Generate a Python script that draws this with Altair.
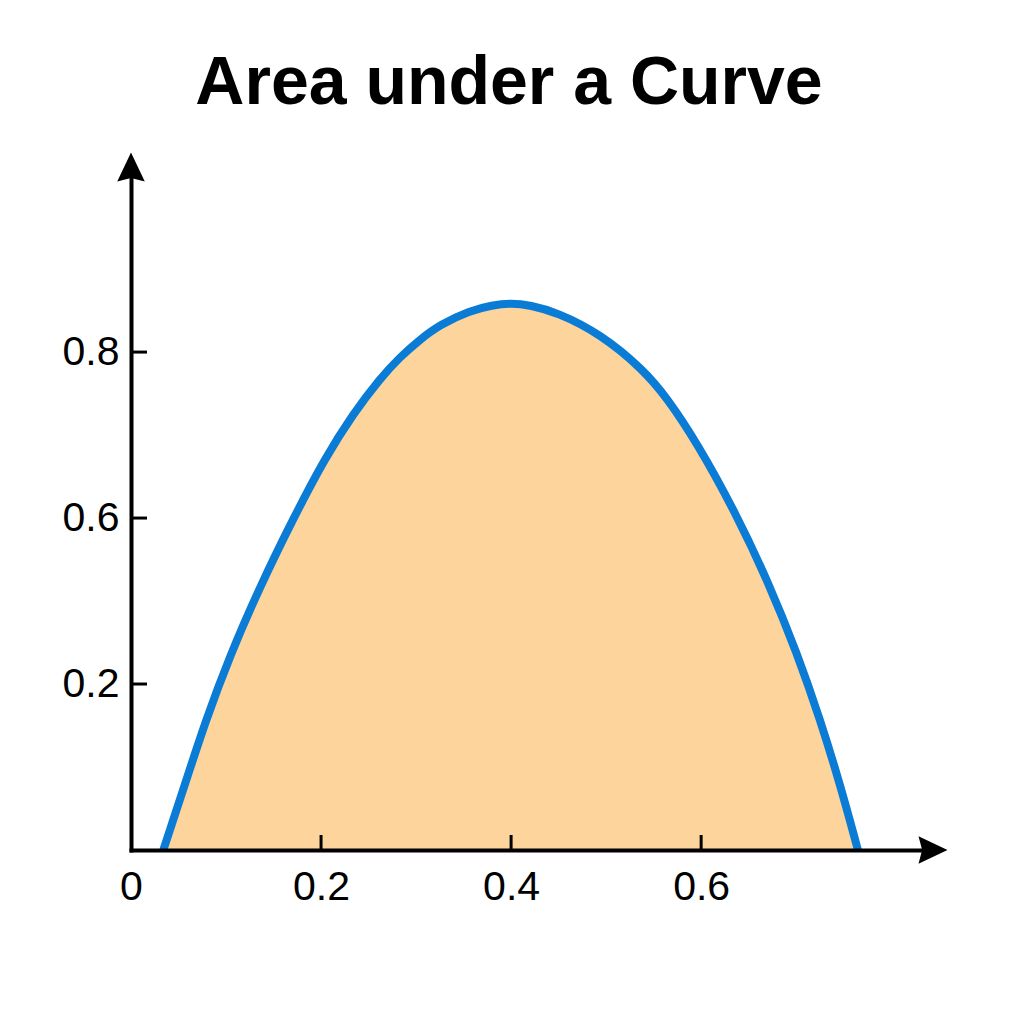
import altair as alt
import pandas as pd

title_text = "Area under a Curve"

# curve (x in axis units, y in axis-position units)
curve_x = [0.034, 0.057, 0.078, 0.104, 0.136, 0.171, 0.204, 0.234, 0.262, 0.283,
           0.304, 0.325, 0.357, 0.380, 0.400, 0.420, 0.448, 0.494, 0.539, 0.564,
           0.596, 0.636, 0.671, 0.701, 0.725, 0.746, 0.765]
curve_y = [0.000, 0.080, 0.154, 0.234, 0.318, 0.400, 0.472, 0.526, 0.568, 0.594,
           0.615, 0.633, 0.650, 0.6565, 0.659, 0.6565, 0.648, 0.622, 0.579, 0.545,
           0.490, 0.407, 0.322, 0.237, 0.158, 0.080, 0.000]

x_tick_values = [0, 0.2, 0.4, 0.6]
x_tick_labels = ["0", "0.2", "0.4", "0.6"]
y_tick_values = [0.2, 0.4, 0.6]
y_tick_labels = ["0.2", "0.6", "0.8"]

x_domain = [0, 0.844]
y_domain = [0, 0.823]

W, H = 802, 683
FONT = "Liberation Sans"


def label_expr(values, labels):
    expr = "''"
    for v, l in reversed(list(zip(values, labels))):
        expr = f"abs(datum.value - {v}) < 1e-6 ? '{l}' : " + expr
    return expr


df = pd.DataFrame({"x": curve_x, "y": curve_y})
x_scale = alt.Scale(domain=x_domain, nice=False, zero=False)
y_scale = alt.Scale(domain=y_domain, nice=False, zero=False)

axis_common = dict(
    title=None, ticks=False, grid=False, domainWidth=4, domainColor="black",
    domainCap="square", labelFontSize=41, labelFont=FONT, labelColor="black",
    labelFlush=False, zindex=1,
)

x_axis = alt.Axis(values=x_tick_values, labelExpr=label_expr(x_tick_values, x_tick_labels),
                  labelPadding=17, **axis_common)
y_axis = alt.Axis(values=y_tick_values, labelExpr=label_expr(y_tick_values, y_tick_labels),
                  labelPadding=12, **axis_common)

base = alt.Chart(df)
area = base.mark_area(color="#FDD49C", interpolate="basis", opacity=1).encode(
    x=alt.X("x:Q", scale=x_scale, axis=x_axis),
    y=alt.Y("y:Q", scale=y_scale, axis=y_axis),
)
line = base.mark_line(color="#0A7CD6", strokeWidth=8, interpolate="basis").encode(
    x=alt.X("x:Q", scale=x_scale, axis=x_axis),
    y=alt.Y("y:Q", scale=y_scale, axis=y_axis),
)

yticks = alt.Chart(pd.DataFrame({"x": [0.0] * len(y_tick_values), "y": y_tick_values})).mark_rule(
    color="black", strokeWidth=3
).encode(
    y=alt.Y("y:Q", scale=y_scale, axis=y_axis),
    x=alt.value(0),
    x2=alt.value(16),
)
xticks = alt.Chart(pd.DataFrame({"x": x_tick_values[1:]})).mark_rule(
    color="black", strokeWidth=3
).encode(
    x=alt.X("x:Q", scale=x_scale, axis=x_axis),
    y=alt.value(H),
    y2=alt.value(H - 15),
)

arrow_path = "M0,-1L0.95,1L0,0.75L-0.95,1Z"
one = pd.DataFrame({"a": [0]})
yarrow = alt.Chart(one).mark_point(
    shape=arrow_path, size=841, filled=True, color="black", opacity=1, strokeWidth=0
).encode(x=alt.value(0), y=alt.value(0))
xarrow = alt.Chart(one).mark_point(
    shape=arrow_path, size=841, filled=True, color="black", opacity=1, strokeWidth=0, angle=90
).encode(x=alt.value(W), y=alt.value(H))

chart = alt.layer(area, line, yticks, xticks, yarrow, xarrow).properties(
    width=W,
    height=H,
    title=alt.TitleParams(title_text, fontSize=68, font=FONT, fontWeight="bold",
                          color="black", anchor="middle", dx=-23, offset=35),
    autosize=alt.AutoSizeParams(type="none"),
    padding={"left": 123, "top": 159, "right": 83, "bottom": 166},
    background="white",
).configure_view(stroke=None)

chart.save("out.html", embed_options={"renderer": "svg", "actions": False})
